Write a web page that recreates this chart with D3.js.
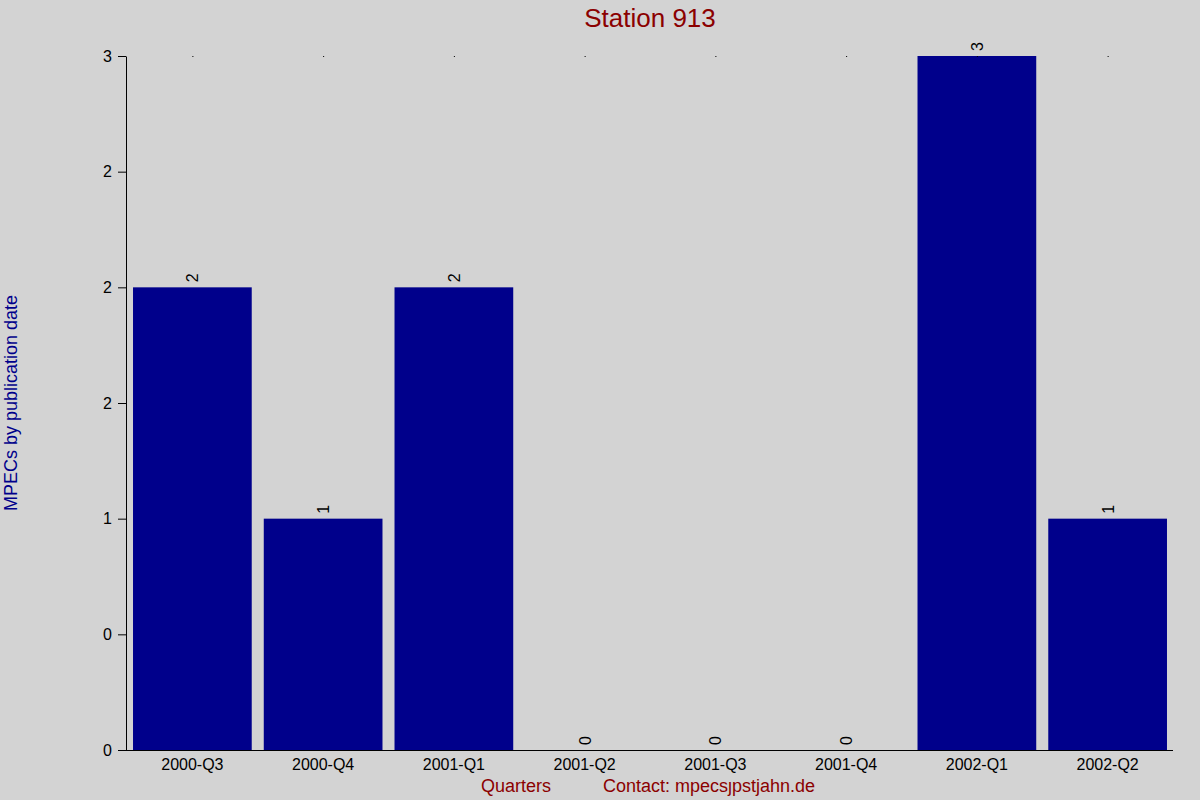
<!DOCTYPE html>
<html>
<head>
<meta charset="utf-8">
<script src="https://cdn.jsdelivr.net/npm/d3@7"></script>
<style>
  body { margin: 0; background: #d3d3d3; }
  svg { display: block; font-family: "Liberation Sans", Arial, sans-serif; }
</style>
</head>
<body>
<svg id="chart" width="1200" height="800"></svg>
<script>
// data
const quarters = ["2000-Q3", "2000-Q4", "2001-Q1", "2001-Q2", "2001-Q3", "2001-Q4", "2002-Q1", "2002-Q2"];
const mpecs = [2, 1, 2, 0, 0, 0, 3, 1];
const yTicks = [0, 0.5, 1, 1.5, 2, 2.5, 3];
const yTickLabels = ["0", "0", "1", "2", "2", "2", "3"];

const svg = d3.select("#chart");
const margin = { top: 56, right: 27, bottom: 50, left: 127 };
const width = 1200 - margin.left - margin.right;
const height = 800 - margin.top - margin.bottom;

svg.append("rect").attr("width", 1200).attr("height", 800).attr("fill", "#d3d3d3");

const x = d3.scaleBand()
  .domain(quarters)
  .range([0, width])
  .paddingInner(0.092)
  .paddingOuter(0.046);

const y = d3.scaleLinear()
  .domain([0, 3])
  .range([height, 0]);

const g = svg.append("g")
  .attr("transform", `translate(${margin.left},${margin.top})`);

// bars
g.selectAll("rect.bar")
  .data(quarters)
  .enter()
  .append("rect")
  .attr("class", "bar")
  .attr("x", d => x(d))
  .attr("y", (d, i) => y(mpecs[i]))
  .attr("width", x.bandwidth())
  .attr("height", (d, i) => height - y(mpecs[i]))
  .attr("fill", "#00008b");

// value labels, rotated
g.selectAll("text.val")
  .data(quarters)
  .enter()
  .append("text")
  .attr("class", "val")
  .attr("transform", (d, i) => `translate(${x(d) + x.bandwidth() / 2 + 6},${y(mpecs[i]) - 5}) rotate(-90)`)
  .style("font-size", "16px")
  .style("fill", "#000")
  .text((d, i) => mpecs[i]);

// little dots at the top of each band
g.selectAll("rect.dot")
  .data(quarters)
  .enter()
  .append("rect")
  .attr("class", "dot")
  .attr("x", d => x(d) + x.bandwidth() / 2)
  .attr("y", y(3))
  .attr("width", 1)
  .attr("height", 1)
  .attr("fill", "#000");

// y axis
const yAxis = g.append("g")
  .attr("transform", "translate(-1,0)")
  .call(d3.axisLeft(y).tickValues(yTicks).tickSize(8).tickSizeOuter(0)
    .tickFormat((d, i) => yTickLabels[i]));
yAxis.selectAll("text").style("font-size", "16px").attr("dx", "-0.2em");

// x axis
const xAxis = g.append("g")
  .attr("transform", `translate(0,${height})`)
  .call(d3.axisBottom(x).tickSize(0).tickSizeOuter(0));
xAxis.select(".domain").attr("d", `M-9,0.5H${width}`);
xAxis.selectAll("text").style("font-size", "16px").attr("y", 8.5).attr("dy", "0.71em");
svg.selectAll(".domain").attr("stroke", "#000");

// title
svg.append("text")
  .attr("x", margin.left + width / 2)
  .attr("y", 27)
  .style("text-anchor", "middle")
  .style("font-size", "26px")
  .style("fill", "#8b0000")
  .text("Station 913");

// axis titles
svg.append("text")
  .attr("x", 516)
  .attr("y", 792)
  .style("text-anchor", "middle")
  .style("font-size", "18px")
  .style("fill", "#8b0000")
  .text("Quarters");

svg.append("text")
  .attr("x", 603)
  .attr("y", 792)
  .style("font-size", "18px")
  .style("fill", "#8b0000")
  .text("Contact: mpecs\u0237pstjahn.de");

svg.append("text")
  .attr("transform", "rotate(-90)")
  .attr("x", -403)
  .attr("y", 17)
  .style("text-anchor", "middle")
  .style("font-size", "18px")
  .style("fill", "#00008b")
  .text("MPECs by publication date");
</script>
</body>
</html>
